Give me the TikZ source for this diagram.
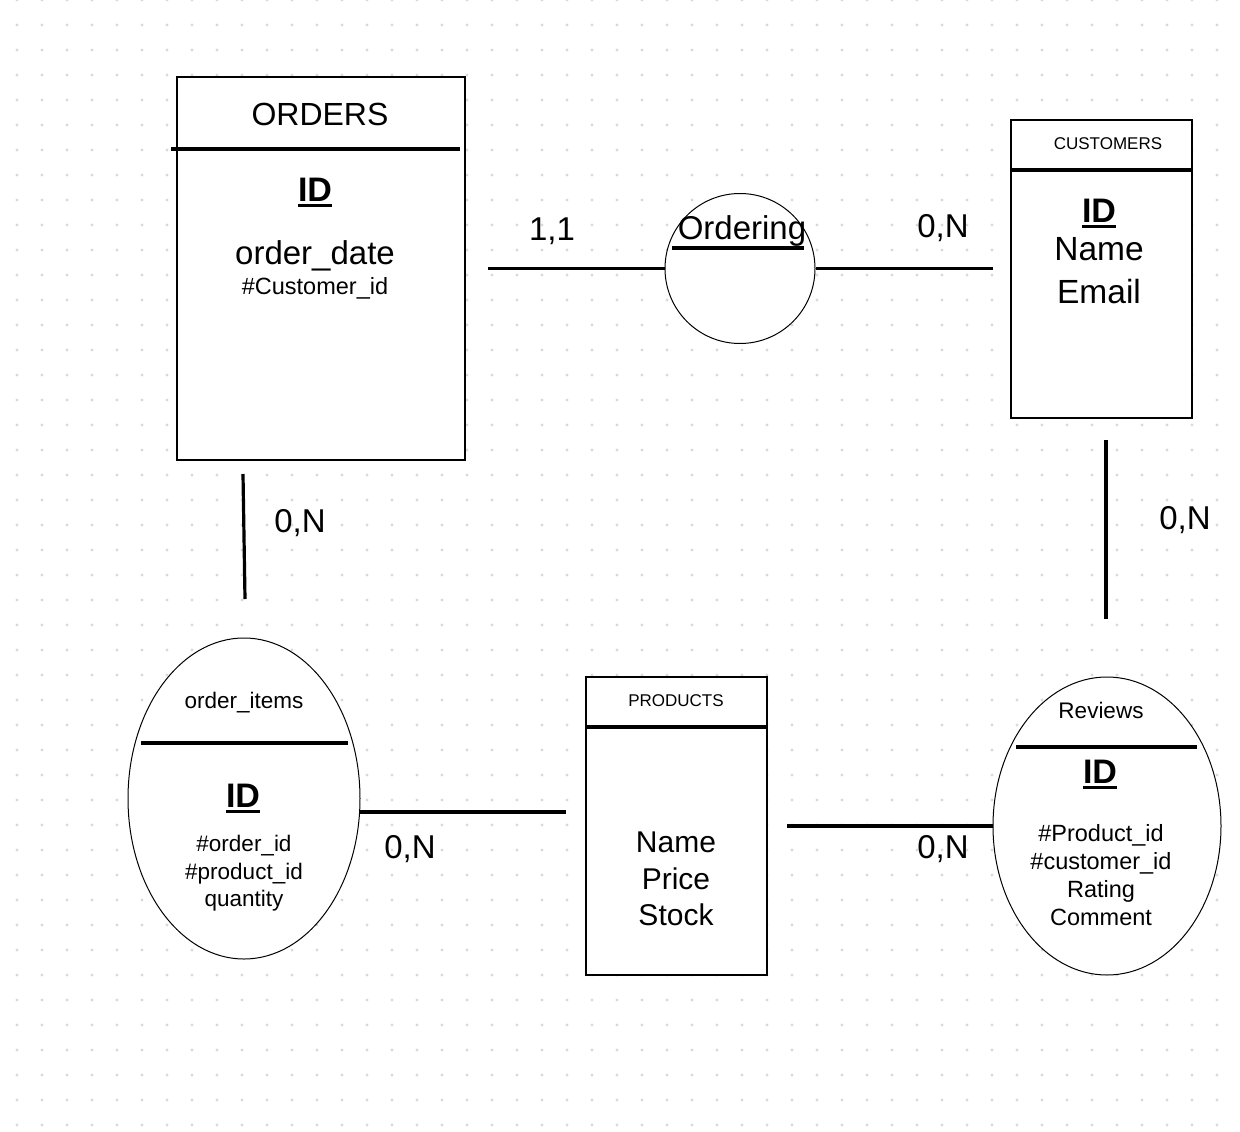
\documentclass[tikz,border=0pt]{standalone}
\usepackage{fontspec}
\setmainfont{Liberation Sans}
\usetikzlibrary{shapes.geometric}
\definecolor{dotc}{HTML}{D9D9D9}
\begin{document}
\begin{tikzpicture}[x=1pt,y=-1pt,
  entbox/.style={draw=black,line width=1.2pt,fill=white,rectangle,inner sep=0pt},
  entell/.style={draw=black,line width=1pt,fill=white,ellipse,inner sep=0pt},
  heavy/.style={line width=3.2pt},
  conn/.style={line width=3.2pt},
  txt/.style={inner sep=0pt,anchor=base,font=\fontsize{#1}{#1}\selectfont},
  idtxt/.style={inner sep=0pt,anchor=base,font=\fontsize{34}{34}\selectfont\bfseries},
  idline/.style={line width=3pt}
]
\useasboundingbox (0,0) rectangle (1240,1132);
\fill[white] (0,0) rectangle (1240,1132);
% dot grid
\foreach \i in {0,...,48}{
  \foreach \j in {0,...,45}{
    \fill[dotc] (17+25*\i,25*\j) circle (1.6);
  }
}

% ---------------- ORDERS ----------------
\node[entbox,minimum width=288pt,minimum height=383pt] (orders) at (321,268.5) {};
\draw[heavy] (171,149) -- (460,149);
\node[txt=32] (ordT) at (320,125) {ORDERS};
\node[idtxt] (ordID) at (315,201) {ID};
\draw[idline] ([yshift=-4.5pt]ordID.base west) -- ([yshift=-4.5pt]ordID.base east);
\node[txt=33] (ord1) at (315,264) {order\_date};
\node[txt=23.5] (ord2) at (315,294) {\#Customer\_id};

% ---------------- Ordering ----------------
\node[draw=black,line width=1pt,fill=white,circle,minimum size=150pt,inner sep=0pt] (ording) at (740,268.5) {};
\node[txt=33] (ordingT) at (742,239) {Ordering};
\draw[heavy] (672,248) -- (804,248);

% ---------------- CUSTOMERS ----------------
\node[entbox,minimum width=181pt,minimum height=298pt] (cust) at (1101.5,269) {};
\draw[heavy] (1011,170) -- (1192,170);
\node[txt=17] (custT) at (1108,149) {CUSTOMERS};
\node[idtxt] (custID) at (1099,222) {ID};
\draw[idline] ([yshift=-4.5pt]custID.base west) -- ([yshift=-4.5pt]custID.base east);
\node[txt=33.5] (cust1) at (1099,260) {Name};
\node[txt=33.5] (cust2) at (1099,303) {Email};

% ---------------- order_items ----------------
\node[entell,minimum width=232pt,minimum height=321pt] (oi) at (244,798.5) {};
\node[txt=22.5] (oiT) at (244,708) {order\_items};
\draw[heavy] (141,743) -- (348,743);
\node[idtxt] (oiID) at (243,807) {ID};
\draw[idline] ([yshift=-4.5pt]oiID.base west) -- ([yshift=-4.5pt]oiID.base east);
\node[txt=22.5] (oi1) at (244,851) {\#order\_id};
\node[txt=22.5] (oi2) at (244,879) {\#product\_id};
\node[txt=22.5] (oi3) at (244,906) {quantity};

% ---------------- PRODUCTS ----------------
\node[entbox,minimum width=181pt,minimum height=298pt] (prod) at (676.5,826) {};
\draw[heavy] (586,727) -- (767,727);
\node[txt=17] (prodT) at (676,706) {PRODUCTS};
\node[txt=30] (prod1) at (676,852) {Name};
\node[txt=30] (prod2) at (676,889) {Price};
\node[txt=30] (prod3) at (676,925) {Stock};

% ---------------- Reviews ----------------
\node[entell,minimum width=228pt,minimum height=298pt] (rev) at (1107,826) {};
\node[txt=22.5] (revT) at (1101,718) {Reviews};
\draw[heavy] (1016,747) -- (1197,747);
\node[idtxt] (revID) at (1100,783) {ID};
\draw[idline] ([yshift=-4.5pt]revID.base west) -- ([yshift=-4.5pt]revID.base east);
\node[txt=23.5] (rev1) at (1101,841) {\#Product\_id};
\node[txt=23.5] (rev2) at (1101,869) {\#customer\_id};
\node[txt=23.5] (rev3) at (1101,897) {Rating};
\node[txt=23.5] (rev4) at (1101,925) {Comment};

% ---------------- connectors ----------------
\coordinate (c1) at (488,268.5);
\coordinate (c2) at (993,268.5);
\coordinate (c3a) at (243,474);
\coordinate (c3b) at (245,599);
\coordinate (c4a) at (1106,440);
\coordinate (c4b) at (1106,619);
\coordinate (c5a) at (360,812);
\coordinate (c5b) at (566,812);
\coordinate (c6) at (787,826);
\draw[conn] (c1) -- (ording.west);
\draw[conn] (ording.east) -- (c2);
\draw[conn] (c3a) -- (c3b);
\draw[conn] (c4a) -- (c4b);
\draw[conn] (c5a) -- (c5b);
\draw[conn] (c6) -- (rev.west);

% ---------------- cardinalities ----------------
\node[txt=33] (k1) at (552,240) {1,1};
\node[txt=33] (k2) at (943,237) {0,N};
\node[txt=33] (k3) at (300,532) {0,N};
\node[txt=33] (k4) at (1185,529) {0,N};
\node[txt=33] (k5) at (410,858) {0,N};
\node[txt=33] (k6) at (943,858) {0,N};
\end{tikzpicture}
\end{document}
